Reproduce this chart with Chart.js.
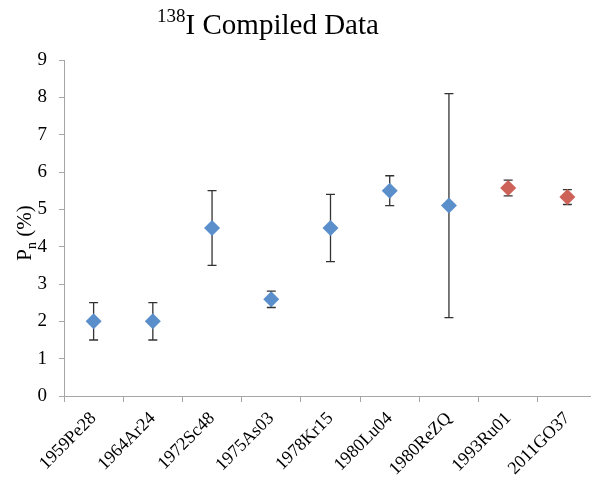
<!DOCTYPE html>
<html>
<head>
<meta charset="utf-8">
<script src="https://cdn.jsdelivr.net/npm/chart.js@4"></script>
<style>
html,body{margin:0;padding:0;background:#fff;overflow:hidden;}
#wrap{width:605px;height:487px;}
</style>
</head>
<body>
<div id="wrap"><canvas id="c" width="605" height="487"></canvas></div>
<script>
const categories = ['1959Pe28','1964Ar24','1972Sc48','1975As03','1978Kr15','1980Lu04','1980ReZQ','1993Ru01','2011GO37'];
const olderValues = [2.0, 2.0, 4.5, 2.59, 4.5, 5.5, 5.1, null, null];
const newerValues = [null, null, null, null, null, null, null, 5.57, 5.33];
const errors = [0.5, 0.5, 1.0, 0.22, 0.9, 0.4, 3.0, 0.21, 0.2];
const yTicks = [0,1,2,3,4,5,6,7,8,9];

const FONT = '"Liberation Serif", "DejaVu Serif", serif';

const errorBars = {
  id: 'errorBars',
  beforeDatasetsDraw(chart) {
    const ctx = chart.ctx;
    const xs = chart.scales.x, ys = chart.scales.y;
    ctx.save();
    ctx.strokeStyle = '#333';
    ctx.lineWidth = 1.3;
    chart.data.datasets.forEach(ds => {
      ds.data.forEach((v, i) => {
        if (v === null) return;
        const x = xs.getPixelForValue(i);
        const yT = ys.getPixelForValue(v + errors[i]);
        const yB = ys.getPixelForValue(v - errors[i]);
        ctx.beginPath();
        ctx.moveTo(x, yT); ctx.lineTo(x, yB);
        ctx.moveTo(x - 4.5, yT); ctx.lineTo(x + 4.5, yT);
        ctx.moveTo(x - 4.5, yB); ctx.lineTo(x + 4.5, yB);
        ctx.stroke();
      });
    });
    ctx.restore();
  }
};

const texts = {
  id: 'texts',
  afterDraw(chart) {
    const ctx = chart.ctx;
    ctx.save();
    ctx.fillStyle = '#000';
    ctx.textBaseline = 'alphabetic';
    // Title with superscript
    const big = '29px ' + FONT, small = '19px ' + FONT;
    ctx.font = small; const wSup = ctx.measureText('138').width;
    ctx.font = big; const wMain = ctx.measureText('I Compiled Data').width;
    let x0 = 268 - (wSup + wMain) / 2;
    ctx.font = small; ctx.textAlign = 'left';
    ctx.fillText('138', x0, 22);
    ctx.font = big;
    ctx.fillText('I Compiled Data', x0 + wSup, 34);
    // Y axis title rotated with subscript
    ctx.translate(31, 233);
    ctx.rotate(-Math.PI / 2);
    const f1 = '21px ' + FONT, f2 = '14px ' + FONT;
    ctx.font = f1; const wP = ctx.measureText('P').width; const wR = ctx.measureText(' (%)').width;
    ctx.font = f2; const wN = ctx.measureText('n').width;
    let sx = -(wP + wN + wR) / 2;
    ctx.font = f1; ctx.fillText('P', sx, 0);
    ctx.font = f2; ctx.fillText('n', sx + wP, 5);
    ctx.font = f1; ctx.fillText(' (%)', sx + wP + wN, 0);
    ctx.restore();
  }
};

new Chart(document.getElementById('c'), {
  type: 'line',
  data: {
    labels: categories,
    datasets: [
      { data: olderValues, showLine: false, pointStyle: 'rectRot', pointRadius: 8, pointHoverRadius: 8,
        backgroundColor: '#5B8FCB', borderColor: '#5B8FCB', borderWidth: 0 },
      { data: newerValues, showLine: false, pointStyle: 'rectRot', pointRadius: 8, pointHoverRadius: 8,
        backgroundColor: '#CD6358', borderColor: '#CD6358', borderWidth: 0 }
    ]
  },
  options: {
    responsive: false,
    animation: false,
    events: [],
    layout: { padding: { top: 60, right: 6, left: 0, bottom: 0 } },
    plugins: { legend: { display: false }, title: { display: false }, tooltip: { enabled: false } },
    scales: {
      x: {
        type: 'category',
        offset: true,
        grid: { offset: true, drawOnChartArea: false, tickLength: 6, color: '#a6a6a6' },
        border: { color: '#a6a6a6' },
        ticks: { minRotation: 45, maxRotation: 45, autoSkip: false, color: '#000', padding: 6,
                 font: { family: FONT, size: 18 } },
        afterFit(s) { s.height = 91; }
      },
      y: {
        min: 0, max: 9,
        afterBuildTicks(s) { s.ticks = yTicks.map(v => ({ value: v })); },
        grid: { drawOnChartArea: false, tickLength: 5, color: '#a6a6a6' },
        border: { color: '#a6a6a6' },
        ticks: { color: '#000', padding: 12, font: { family: FONT, size: 19 } },
        afterFit(s) { s.width = 64; }
      }
    }
  },
  plugins: [errorBars, texts]
});
</script>
</body>
</html>
